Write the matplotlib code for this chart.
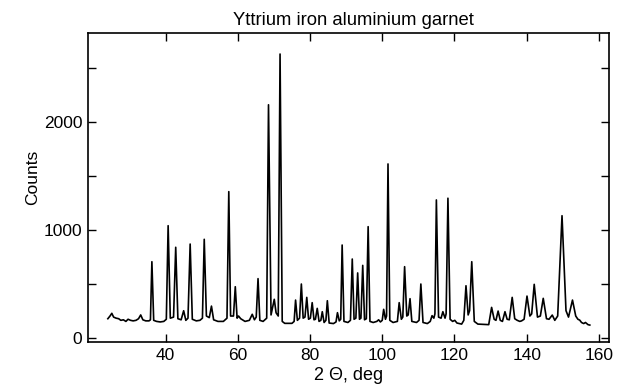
import matplotlib
matplotlib.use("Agg")
import matplotlib.pyplot as plt
from matplotlib.ticker import MultipleLocator

plt.rcParams['font.family'] = ['Liberation Sans', 'DejaVu Sans']

title = "Yttrium iron aluminium garnet"
xlabel = "2 \u0398, deg"
ylabel = "Counts"
xticks = [40, 60, 80, 100, 120, 140, 160]
yticks = [0, 1000, 2000]

# (2 theta, counts) vertices
two_theta = [
    24.0, 24.6, 25.1, 25.6, 26.3, 27.0, 27.6, 28.3, 29.0, 29.6, 30.3, 31.0, 31.8, 32.5, 33.1, 33.7,
    34.5, 35.4, 35.8, 36.2, 36.7, 37.5, 38.5, 39.5, 40.2, 40.7, 41.3, 42.2, 42.8, 43.4, 44.3, 45.0,
    45.6, 46.2, 46.8, 47.4, 48.5, 49.5, 50.2, 50.7, 51.3, 52.1, 52.7, 53.3, 54.5, 56.0, 57.0, 57.5,
    58.0, 58.8, 59.3, 59.8, 60.2, 60.8, 62.0, 63.2, 64.0, 64.6, 65.1, 65.6, 66.1, 67.0, 68.0, 68.5,
    69.2, 70.1, 70.6, 71.2, 71.7, 72.3, 73.0, 75.0, 75.6, 76.0, 76.5, 77.1, 77.6, 78.1, 78.6, 79.1,
    79.6, 80.1, 80.6, 81.1, 81.5, 82.0, 82.5, 83.0, 83.4, 83.9, 84.4, 84.8, 85.3, 86.5, 87.2, 87.6,
    88.1, 88.5, 88.9, 89.4, 90.5, 91.2, 91.7, 92.2, 92.7, 93.2, 93.7, 94.1, 94.6, 95.1, 95.6, 96.1,
    96.6, 97.5, 98.5, 99.0, 99.5, 100.0, 100.4, 100.9, 101.2, 101.6, 102.1, 103.0, 104.2, 104.7, 105.3, 105.7,
    106.2, 106.8, 107.2, 107.7, 108.2, 109.5, 110.2, 110.7, 111.3, 112.5, 113.3, 113.8, 114.3, 114.6, 115.0, 115.6,
    116.3, 116.8, 117.4, 117.7, 118.2, 118.8, 119.5, 120.1, 120.7, 122.0, 122.6, 123.2, 123.8, 124.2, 124.8, 125.5,
    126.5, 129.5, 130.3, 131.0, 131.5, 132.1, 132.7, 133.3, 134.0, 134.6, 135.2, 136.0, 136.7, 137.4, 138.1, 138.6,
    139.3, 140.1, 140.9, 141.4, 142.1, 143.0, 143.8, 144.6, 145.5, 146.2, 147.1, 147.8, 148.6, 149.8, 150.9, 151.6,
    152.7, 153.6, 154.2, 154.7, 155.2, 155.8, 156.3, 157.0, 157.5,
]
counts = [
    175, 200, 225, 190, 180, 175, 160, 165, 150, 170, 160, 155, 160, 175, 210, 165,
    155, 155, 165, 704, 160, 150, 145, 150, 170, 1038, 180, 190, 838, 175, 165, 249,
    160, 180, 868, 170, 155, 160, 180, 912, 200, 185, 292, 165, 150, 150, 180, 1354,
    200, 200, 472, 180, 200, 175, 150, 160, 216, 165, 190, 547, 160, 150, 180, 2160,
    210, 355, 230, 200, 2631, 150, 132, 132, 150, 348, 160, 180, 497, 180, 190, 373,
    170, 180, 324, 165, 170, 271, 150, 160, 240, 140, 160, 342, 135, 130, 145, 231,
    155, 170, 859, 150, 140, 160, 729, 170, 180, 600, 170, 180, 670, 165, 175, 1029,
    150, 140, 150, 165, 145, 160, 262, 170, 200, 1611, 160, 140, 150, 324, 170, 190,
    658, 200, 210, 361, 150, 140, 160, 497, 140, 130, 150, 203, 180, 220, 1277, 190,
    180, 240, 180, 220, 1293, 170, 150, 160, 135, 125, 160, 481, 210, 250, 704, 150,
    125, 120, 280, 170, 160, 246, 160, 150, 240, 170, 165, 373, 175, 160, 150, 155,
    170, 385, 200, 220, 494, 190, 200, 364, 175, 170, 209, 160, 200, 1131, 250, 190,
    348, 200, 170, 162, 140, 130, 140, 120, 116,
]

fig = plt.figure(figsize=(6.33, 3.90), dpi=100)
ax = fig.add_axes([0.139, 0.122, 0.823, 0.793])
ax.plot(two_theta, counts, color='black', linewidth=1.2)

ax.set_xlim(18.5, 162.8)
ax.set_ylim(-45, 2825)
ax.set_xticks(xticks)
ax.set_yticks(yticks)
ax.yaxis.set_minor_locator(MultipleLocator(500))
ax.tick_params(which='both', direction='in', top=True, right=True, length=5.5,
               width=1.0, labelsize=12.5, colors='black', pad=4)
for s in ax.spines.values():
    s.set_linewidth(1.2)

ax.set_title(title, fontsize=13.3, pad=6, x=0.509)
ax.set_xlabel(xlabel, fontsize=13)
ax.set_ylabel(ylabel, fontsize=12.5)
ax.xaxis.set_label_coords(0.5, -0.078)
ax.yaxis.set_label_coords(-0.092, 0.533)

fig.savefig("out.png", dpi=100)
